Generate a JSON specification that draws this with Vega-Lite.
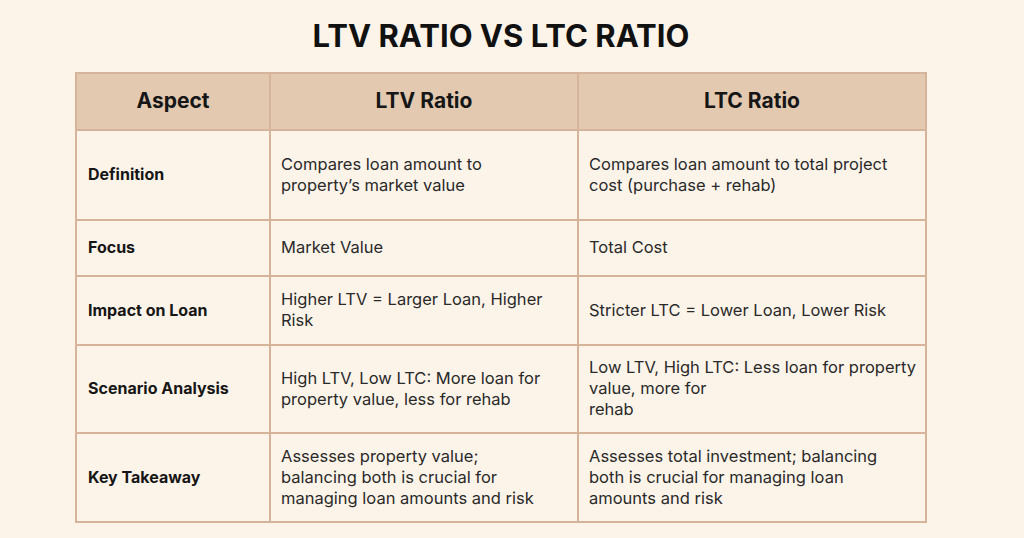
{
  "$schema": "https://vega.github.io/schema/vega-lite/v6.json",
  "background": "#fdf4e9",
  "padding": {"left": 75, "right": 99, "top": 22, "bottom": 16},
  "autosize": {"type": "pad"},
  "title": {"text": "LTV RATIO VS LTC RATIO", "font": "Inter", "fontSize": 31, "fontWeight": "bold", "color": "#111111", "anchor": "middle", "offset": 18},
  "datasets": {
    "columns": [{"name": "Aspect"}, {"name": "LTV Ratio"}, {"name": "LTC Ratio"}],
    "table": [
      {"aspect": "Definition", "ltv": "Compares loan amount to\nproperty’s market value", "ltc": "Compares loan amount to total project\ncost (purchase + rehab)"},
      {"aspect": "Focus", "ltv": "Market Value", "ltc": "Total Cost"},
      {"aspect": "Impact on Loan", "ltv": "Higher LTV = Larger Loan, Higher\nRisk", "ltc": "Stricter LTC = Lower Loan, Lower Risk"},
      {"aspect": "Scenario Analysis", "ltv": "High LTV, Low LTC: More loan for\nproperty value, less for rehab", "ltc": "Low LTV, High LTC: Less loan for property\nvalue, more for\nrehab"},
      {"aspect": "Key Takeaway", "ltv": "Assesses property value;\nbalancing both is crucial for\nmanaging loan amounts and risk", "ltc": "Assesses total investment; balancing\nboth is crucial for managing loan\namounts and risk"}
    ]
  },
  "config": {
    "concat": {"spacing": 0},
    "view": {"stroke": "#d6b49b", "strokeWidth": 2}
  },
  "columns": 3,
  "spacing": 0,
  "bounds": "flush",
  "concat": [
      {"width": 194, "height": 57, "view": {"fill": "#e2c9b0", "stroke": "#d6b49b", "strokeWidth": 2}, "data": {"name": "columns"}, "transform": [{"filter": "datum.name === 'Aspect'"}], "mark": {"type": "text", "font": "Inter", "fontSize": 21, "fontWeight": "bold", "color": "#161616", "baseline": "middle"}, "encoding": {"text": {"field": "name"}}},
      {"width": 308, "height": 57, "view": {"fill": "#e2c9b0", "stroke": "#d6b49b", "strokeWidth": 2}, "data": {"name": "columns"}, "transform": [{"filter": "datum.name === 'LTV Ratio'"}], "mark": {"type": "text", "font": "Inter", "fontSize": 21, "fontWeight": "bold", "color": "#161616", "baseline": "middle"}, "encoding": {"text": {"field": "name"}}},
      {"width": 348, "height": 57, "view": {"fill": "#e2c9b0", "stroke": "#d6b49b", "strokeWidth": 2}, "data": {"name": "columns"}, "transform": [{"filter": "datum.name === 'LTC Ratio'"}], "mark": {"type": "text", "font": "Inter", "fontSize": 21, "fontWeight": "bold", "color": "#161616", "baseline": "middle"}, "encoding": {"text": {"field": "name"}}},
      {"width": 194, "height": 90, "view": {"fill": "#fdf4e9", "stroke": "#d6b49b", "strokeWidth": 2}, "data": {"name": "table"}, "transform": [{"filter": "datum.aspect === 'Definition'"}], "mark": {"type": "text", "align": "left", "baseline": "middle", "dx": 12, "font": "Inter", "fontSize": 16, "fontWeight": "bold", "color": "#161616"}, "encoding": {"text": {"field": "aspect"}, "x": {"datum": 0, "type": "quantitative", "scale": {"domain": [0, 1]}, "axis": null}}},
      {"width": 308, "height": 90, "view": {"fill": "#fdf4e9", "stroke": "#d6b49b", "strokeWidth": 2}, "data": {"name": "table"}, "transform": [{"filter": "datum.aspect === 'Definition'"}], "mark": {"type": "text", "align": "left", "baseline": "middle", "dx": 11, "dy": -10.5, "font": "Inter", "fontSize": 16.5, "lineHeight": 21, "lineBreak": "\n", "color": "#2a2a2a"}, "encoding": {"text": {"field": "ltv"}, "x": {"datum": 0, "type": "quantitative", "scale": {"domain": [0, 1]}, "axis": null}}},
      {"width": 348, "height": 90, "view": {"fill": "#fdf4e9", "stroke": "#d6b49b", "strokeWidth": 2}, "data": {"name": "table"}, "transform": [{"filter": "datum.aspect === 'Definition'"}], "mark": {"type": "text", "align": "left", "baseline": "middle", "dx": 11, "dy": -10.5, "font": "Inter", "fontSize": 16.5, "lineHeight": 21, "lineBreak": "\n", "color": "#2a2a2a"}, "encoding": {"text": {"field": "ltc"}, "x": {"datum": 0, "type": "quantitative", "scale": {"domain": [0, 1]}, "axis": null}}},
      {"width": 194, "height": 56, "view": {"fill": "#fdf4e9", "stroke": "#d6b49b", "strokeWidth": 2}, "data": {"name": "table"}, "transform": [{"filter": "datum.aspect === 'Focus'"}], "mark": {"type": "text", "align": "left", "baseline": "middle", "dx": 12, "font": "Inter", "fontSize": 16, "fontWeight": "bold", "color": "#161616"}, "encoding": {"text": {"field": "aspect"}, "x": {"datum": 0, "type": "quantitative", "scale": {"domain": [0, 1]}, "axis": null}}},
      {"width": 308, "height": 56, "view": {"fill": "#fdf4e9", "stroke": "#d6b49b", "strokeWidth": 2}, "data": {"name": "table"}, "transform": [{"filter": "datum.aspect === 'Focus'"}], "mark": {"type": "text", "align": "left", "baseline": "middle", "dx": 11, "font": "Inter", "fontSize": 16.5, "lineHeight": 21, "lineBreak": "\n", "color": "#2a2a2a"}, "encoding": {"text": {"field": "ltv"}, "x": {"datum": 0, "type": "quantitative", "scale": {"domain": [0, 1]}, "axis": null}}},
      {"width": 348, "height": 56, "view": {"fill": "#fdf4e9", "stroke": "#d6b49b", "strokeWidth": 2}, "data": {"name": "table"}, "transform": [{"filter": "datum.aspect === 'Focus'"}], "mark": {"type": "text", "align": "left", "baseline": "middle", "dx": 11, "font": "Inter", "fontSize": 16.5, "lineHeight": 21, "lineBreak": "\n", "color": "#2a2a2a"}, "encoding": {"text": {"field": "ltc"}, "x": {"datum": 0, "type": "quantitative", "scale": {"domain": [0, 1]}, "axis": null}}},
      {"width": 194, "height": 69, "view": {"fill": "#fdf4e9", "stroke": "#d6b49b", "strokeWidth": 2}, "data": {"name": "table"}, "transform": [{"filter": "datum.aspect === 'Impact on Loan'"}], "mark": {"type": "text", "align": "left", "baseline": "middle", "dx": 12, "font": "Inter", "fontSize": 16, "fontWeight": "bold", "color": "#161616"}, "encoding": {"text": {"field": "aspect"}, "x": {"datum": 0, "type": "quantitative", "scale": {"domain": [0, 1]}, "axis": null}}},
      {"width": 308, "height": 69, "view": {"fill": "#fdf4e9", "stroke": "#d6b49b", "strokeWidth": 2}, "data": {"name": "table"}, "transform": [{"filter": "datum.aspect === 'Impact on Loan'"}], "mark": {"type": "text", "align": "left", "baseline": "middle", "dx": 11, "dy": -10.5, "font": "Inter", "fontSize": 16.5, "lineHeight": 21, "lineBreak": "\n", "color": "#2a2a2a"}, "encoding": {"text": {"field": "ltv"}, "x": {"datum": 0, "type": "quantitative", "scale": {"domain": [0, 1]}, "axis": null}}},
      {"width": 348, "height": 69, "view": {"fill": "#fdf4e9", "stroke": "#d6b49b", "strokeWidth": 2}, "data": {"name": "table"}, "transform": [{"filter": "datum.aspect === 'Impact on Loan'"}], "mark": {"type": "text", "align": "left", "baseline": "middle", "dx": 11, "font": "Inter", "fontSize": 16.5, "lineHeight": 21, "lineBreak": "\n", "color": "#2a2a2a"}, "encoding": {"text": {"field": "ltc"}, "x": {"datum": 0, "type": "quantitative", "scale": {"domain": [0, 1]}, "axis": null}}},
      {"width": 194, "height": 88, "view": {"fill": "#fdf4e9", "stroke": "#d6b49b", "strokeWidth": 2}, "data": {"name": "table"}, "transform": [{"filter": "datum.aspect === 'Scenario Analysis'"}], "mark": {"type": "text", "align": "left", "baseline": "middle", "dx": 12, "font": "Inter", "fontSize": 16, "fontWeight": "bold", "color": "#161616"}, "encoding": {"text": {"field": "aspect"}, "x": {"datum": 0, "type": "quantitative", "scale": {"domain": [0, 1]}, "axis": null}}},
      {"width": 308, "height": 88, "view": {"fill": "#fdf4e9", "stroke": "#d6b49b", "strokeWidth": 2}, "data": {"name": "table"}, "transform": [{"filter": "datum.aspect === 'Scenario Analysis'"}], "mark": {"type": "text", "align": "left", "baseline": "middle", "dx": 11, "dy": -10.5, "font": "Inter", "fontSize": 16.5, "lineHeight": 21, "lineBreak": "\n", "color": "#2a2a2a"}, "encoding": {"text": {"field": "ltv"}, "x": {"datum": 0, "type": "quantitative", "scale": {"domain": [0, 1]}, "axis": null}}},
      {"width": 348, "height": 88, "view": {"fill": "#fdf4e9", "stroke": "#d6b49b", "strokeWidth": 2}, "data": {"name": "table"}, "transform": [{"filter": "datum.aspect === 'Scenario Analysis'"}], "mark": {"type": "text", "align": "left", "baseline": "middle", "dx": 11, "dy": -21, "font": "Inter", "fontSize": 16.5, "lineHeight": 21, "lineBreak": "\n", "color": "#2a2a2a"}, "encoding": {"text": {"field": "ltc"}, "x": {"datum": 0, "type": "quantitative", "scale": {"domain": [0, 1]}, "axis": null}}},
      {"width": 194, "height": 89, "view": {"fill": "#fdf4e9", "stroke": "#d6b49b", "strokeWidth": 2}, "data": {"name": "table"}, "transform": [{"filter": "datum.aspect === 'Key Takeaway'"}], "mark": {"type": "text", "align": "left", "baseline": "middle", "dx": 12, "font": "Inter", "fontSize": 16, "fontWeight": "bold", "color": "#161616"}, "encoding": {"text": {"field": "aspect"}, "x": {"datum": 0, "type": "quantitative", "scale": {"domain": [0, 1]}, "axis": null}}},
      {"width": 308, "height": 89, "view": {"fill": "#fdf4e9", "stroke": "#d6b49b", "strokeWidth": 2}, "data": {"name": "table"}, "transform": [{"filter": "datum.aspect === 'Key Takeaway'"}], "mark": {"type": "text", "align": "left", "baseline": "middle", "dx": 11, "dy": -21, "font": "Inter", "fontSize": 16.5, "lineHeight": 21, "lineBreak": "\n", "color": "#2a2a2a"}, "encoding": {"text": {"field": "ltv"}, "x": {"datum": 0, "type": "quantitative", "scale": {"domain": [0, 1]}, "axis": null}}},
      {"width": 348, "height": 89, "view": {"fill": "#fdf4e9", "stroke": "#d6b49b", "strokeWidth": 2}, "data": {"name": "table"}, "transform": [{"filter": "datum.aspect === 'Key Takeaway'"}], "mark": {"type": "text", "align": "left", "baseline": "middle", "dx": 11, "dy": -21, "font": "Inter", "fontSize": 16.5, "lineHeight": 21, "lineBreak": "\n", "color": "#2a2a2a"}, "encoding": {"text": {"field": "ltc"}, "x": {"datum": 0, "type": "quantitative", "scale": {"domain": [0, 1]}, "axis": null}}}
  ]
}
